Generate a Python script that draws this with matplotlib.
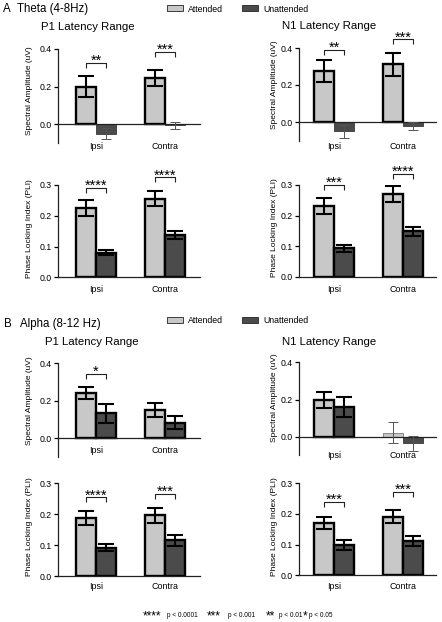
import matplotlib
matplotlib.use('Agg')
import matplotlib.pyplot as plt
from matplotlib.patches import Patch
from matplotlib.ticker import FormatStrFormatter

plt.rcParams['font.family'] = ['Liberation Sans', 'DejaVu Sans']

# ---------------- data ----------------
categories = ['Ipsi', 'Contra']
conditions = ['Attended', 'Unattended']

theta_p1_amp_att = [0.200, 0.245]
theta_p1_amp_att_err = [0.055, 0.042]
theta_p1_amp_unatt = [-0.052, -0.007]
theta_p1_amp_unatt_err = [0.030, 0.020]
theta_p1_amp_sig = ['**', '***']
theta_p1_amp_brk = [0.325, 0.384]

theta_n1_amp_att = [0.275, 0.312]
theta_n1_amp_att_err = [0.060, 0.063]
theta_n1_amp_unatt = [-0.050, -0.020]
theta_n1_amp_unatt_err = [0.035, 0.022]
theta_n1_amp_sig = ['**', '***']
theta_n1_amp_brk = [0.390, 0.447]

theta_p1_pli_att = [0.224, 0.256]
theta_p1_pli_att_err = [0.026, 0.025]
theta_p1_pli_unatt = [0.080, 0.137]
theta_p1_pli_unatt_err = [0.009, 0.014]
theta_p1_pli_sig = ['****', '****']
theta_p1_pli_brk = [0.290, 0.325]

theta_n1_pli_att = [0.232, 0.270]
theta_n1_pli_att_err = [0.027, 0.026]
theta_n1_pli_unatt = [0.093, 0.148]
theta_n1_pli_unatt_err = [0.011, 0.014]
theta_n1_pli_sig = ['***', '****']
theta_n1_pli_brk = [0.300, 0.336]

alpha_p1_amp_att = [0.240, 0.151]
alpha_p1_amp_att_err = [0.031, 0.037]
alpha_p1_amp_unatt = [0.133, 0.083]
alpha_p1_amp_unatt_err = [0.052, 0.035]
alpha_p1_amp_sig = ['*', '']
alpha_p1_amp_brk = [0.343, None]

alpha_n1_amp_att = [0.197, 0.022]
alpha_n1_amp_att_err = [0.043, 0.058]
alpha_n1_amp_unatt = [0.158, -0.036]
alpha_n1_amp_unatt_err = [0.054, 0.040]
alpha_n1_amp_sig = ['', '']
alpha_n1_amp_brk = [None, None]

alpha_p1_pli_att = [0.187, 0.196]
alpha_p1_pli_att_err = [0.022, 0.023]
alpha_p1_pli_unatt = [0.092, 0.115]
alpha_p1_pli_unatt_err = [0.012, 0.018]
alpha_p1_pli_sig = ['****', '***']
alpha_p1_pli_brk = [0.255, 0.266]

alpha_n1_pli_att = [0.171, 0.191]
alpha_n1_pli_att_err = [0.019, 0.021]
alpha_n1_pli_unatt = [0.098, 0.113]
alpha_n1_pli_unatt_err = [0.016, 0.016]
alpha_n1_pli_sig = ['***', '***']
alpha_n1_pli_brk = [0.240, 0.272]

amp_label = 'Spectral Amplitude (uV)'
pli_label = 'Phase Locking Index (PLI)'
amp_ticks = [0.0, 0.2, 0.4]
pli_ticks = [0.0, 0.1, 0.2, 0.3]

footnote = [('****', 'p < 0.0001'), ('***', 'p < 0.001'), ('**', 'p < 0.01'), ('*', 'p < 0.05')]

# ---------------- style ----------------
W, H = 442, 622
ATT = '#c8c8c8'
UNATT = '#4b4b4b'
GROUP_PX = 69.0
BAR_W = 20.0 / GROUP_PX

fig = plt.figure(figsize=(W / 100, H / 100), dpi=100)


def add_axes_px(x0, x1, ytop, ybot):
    return fig.add_axes([x0 / W, 1 - ybot / H, (x1 - x0) / W, (ybot - ytop) / H])


def panel(box, center_px, ylim, yticks, ylabel, label_xy, tick_pad,
          att, att_err, unatt, unatt_err, sig, brk, zero_spine):
    x0, x1, ytop, ybot = box
    ax = add_axes_px(x0, x1, ytop, ybot)
    ax.set_xlim(-(center_px - x0) / GROUP_PX, (x1 - center_px) / GROUP_PX)
    ax.set_ylim(*ylim)
    xs = list(range(len(categories)))
    for vals, errs, col, off in [(att, att_err, ATT, -BAR_W / 2),
                                 (unatt, unatt_err, UNATT, BAR_W / 2)]:
        for xi, v, e in zip(xs, vals, errs):
            thin = abs(v) < 0.06
            ax.bar(xi + off, v, BAR_W, color=col,
                   edgecolor=('#7a7a7a' if col == ATT else '#3a3a3a') if thin else 'black',
                   linewidth=0.6 if thin else 1.7, zorder=1)
            if thin:
                ax.errorbar(xi + off, v, yerr=e, fmt='none', ecolor='#555555',
                            elinewidth=0.7, capsize=3.6, capthick=0.7, zorder=3)
            else:
                ax.errorbar(xi + off, v, yerr=e, fmt='none', ecolor='black',
                            elinewidth=1.5, capsize=5.8, capthick=1.5, zorder=3)
    # significance brackets
    ppu = (ybot - ytop) / (ylim[1] - ylim[0])  # pixels per data unit
    leg = 5.0 / ppu
    for xi, s, b in zip(xs, sig, brk):
        if not s or b is None:
            continue
        xa, xb = xi - BAR_W / 2, xi + BAR_W / 2
        ax.plot([xa, xa, xb, xb], [b - leg, b, b, b - leg], color='#222222',
                lw=0.8, clip_on=False, solid_capstyle='butt')
        ax.annotate(s, xy=(xi, b), xytext=(0, -1.5), textcoords='offset points',
                    ha='center', va='baseline', fontsize=10.5, annotation_clip=False)
    # axes styling
    for sp in ['top', 'right']:
        ax.spines[sp].set_visible(False)
    for sp in ['left', 'bottom']:
        ax.spines[sp].set_linewidth(0.9)
        ax.spines[sp].set_color('#222222')
    if zero_spine:
        ax.spines['bottom'].set_position(('data', 0))
    ax.set_xticks(xs)
    ax.set_xticklabels(categories)
    ax.tick_params(axis='x', length=0, pad=tick_pad, labelsize=6.4)
    ax.set_yticks(yticks)
    ax.yaxis.set_major_formatter(FormatStrFormatter('%.1f'))
    ax.tick_params(axis='y', length=3, width=0.9, pad=1.5, labelsize=6.3)
    ax.set_ylabel(ylabel, fontsize=6.0)
    ax.yaxis.set_label_coords(*label_xy)
    return ax


LEFT = (58, 200)
RIGHT = (299, 436)

panel((*LEFT, 49, 142.75), 96, (-0.1, 0.4), amp_ticks, amp_label, (-0.176, 0.56), 13.0,
      theta_p1_amp_att, theta_p1_amp_att_err, theta_p1_amp_unatt, theta_p1_amp_unatt_err,
      theta_p1_amp_sig, theta_p1_amp_brk, True)
panel((*RIGHT, 48, 140.5), 334, (-0.1, 0.4), amp_ticks, amp_label, (-0.155, 0.6), 14.5,
      theta_n1_amp_att, theta_n1_amp_att_err, theta_n1_amp_unatt, theta_n1_amp_unatt_err,
      theta_n1_amp_sig, theta_n1_amp_brk, True)
panel((*LEFT, 185, 277.3), 96, (0, 0.3), pli_ticks, pli_label, (-0.176, 0.53), 5.8,
      theta_p1_pli_att, theta_p1_pli_att_err, theta_p1_pli_unatt, theta_p1_pli_unatt_err,
      theta_p1_pli_sig, theta_p1_pli_brk, False)
panel((*RIGHT, 185, 276.7), 334, (0, 0.3), pli_ticks, pli_label, (-0.155, 0.53), 6.2,
      theta_n1_pli_att, theta_n1_pli_att_err, theta_n1_pli_unatt, theta_n1_pli_unatt_err,
      theta_n1_pli_sig, theta_n1_pli_brk, False)
panel((*LEFT, 363.3, 457), 96, (-0.1, 0.4), amp_ticks, amp_label, (-0.176, 0.6), 5.6,
      alpha_p1_amp_att, alpha_p1_amp_att_err, alpha_p1_amp_unatt, alpha_p1_amp_unatt_err,
      alpha_p1_amp_sig, alpha_p1_amp_brk, True)
panel((*RIGHT, 362.3, 455.3), 334, (-0.1, 0.4), amp_ticks, amp_label, (-0.155, 0.62), 10.3,
      alpha_n1_amp_att, alpha_n1_amp_att_err, alpha_n1_amp_unatt, alpha_n1_amp_unatt_err,
      alpha_n1_amp_sig, alpha_n1_amp_brk, True)
panel((*LEFT, 483.3, 576), 96, (0, 0.3), pli_ticks, pli_label, (-0.176, 0.53), 4.6,
      alpha_p1_pli_att, alpha_p1_pli_att_err, alpha_p1_pli_unatt, alpha_p1_pli_unatt_err,
      alpha_p1_pli_sig, alpha_p1_pli_brk, False)
panel((*RIGHT, 483.3, 575.3), 334, (0, 0.3), pli_ticks, pli_label, (-0.155, 0.53), 4.9,
      alpha_n1_pli_att, alpha_n1_pli_att_err, alpha_n1_pli_unatt, alpha_n1_pli_unatt_err,
      alpha_n1_pli_sig, alpha_n1_pli_brk, False)


def ftext(x, y, s, **kw):
    return fig.text(x / W, 1 - y / H, s, **kw)


# section headings
ftext(3, 9, 'A', fontsize=8.3, va='center', ha='left')
ftext(17, 9, 'Theta (4-8Hz)', fontsize=8.3, va='center', ha='left')
ftext(4, 324, 'B', fontsize=8.3, va='center', ha='left')
ftext(20, 324, 'Alpha (8-12 Hz)', fontsize=8.3, va='center', ha='left')

# panel titles
ftext(88, 27, 'P1 Latency Range', fontsize=8.2, va='center', ha='center')
ftext(329, 26, 'N1 Latency Range', fontsize=8.2, va='center', ha='center')
ftext(92, 342, 'P1 Latency Range', fontsize=8.2, va='center', ha='center')
ftext(329, 342, 'N1 Latency Range', fontsize=8.2, va='center', ha='center')

# legends
handles = [Patch(facecolor=ATT, edgecolor='#222222', linewidth=0.6),
           Patch(facecolor=UNATT, edgecolor='#222222', linewidth=0.6)]
for ly in (9, 321):
    fig.legend(handles=handles, labels=conditions, loc='center left',
               bbox_to_anchor=(167 / W, 1 - ly / H), ncol=2, frameon=False,
               fontsize=6.3, handlelength=1.83, handleheight=0.69, handletextpad=0.57,
               columnspacing=2.17, borderpad=0, borderaxespad=0)

# footnote
star_x = [143, 207, 266, 303]
text_x = [167, 228, 279, 309]
for (st, tx), sx, txx in zip(footnote, star_x, text_x):
    ftext(sx, 610, st, fontsize=8.5, va='top', ha='left')
    ftext(txx, 617, tx, fontsize=4.7, va='baseline', ha='left')

fig.savefig('out.png', dpi=100)
